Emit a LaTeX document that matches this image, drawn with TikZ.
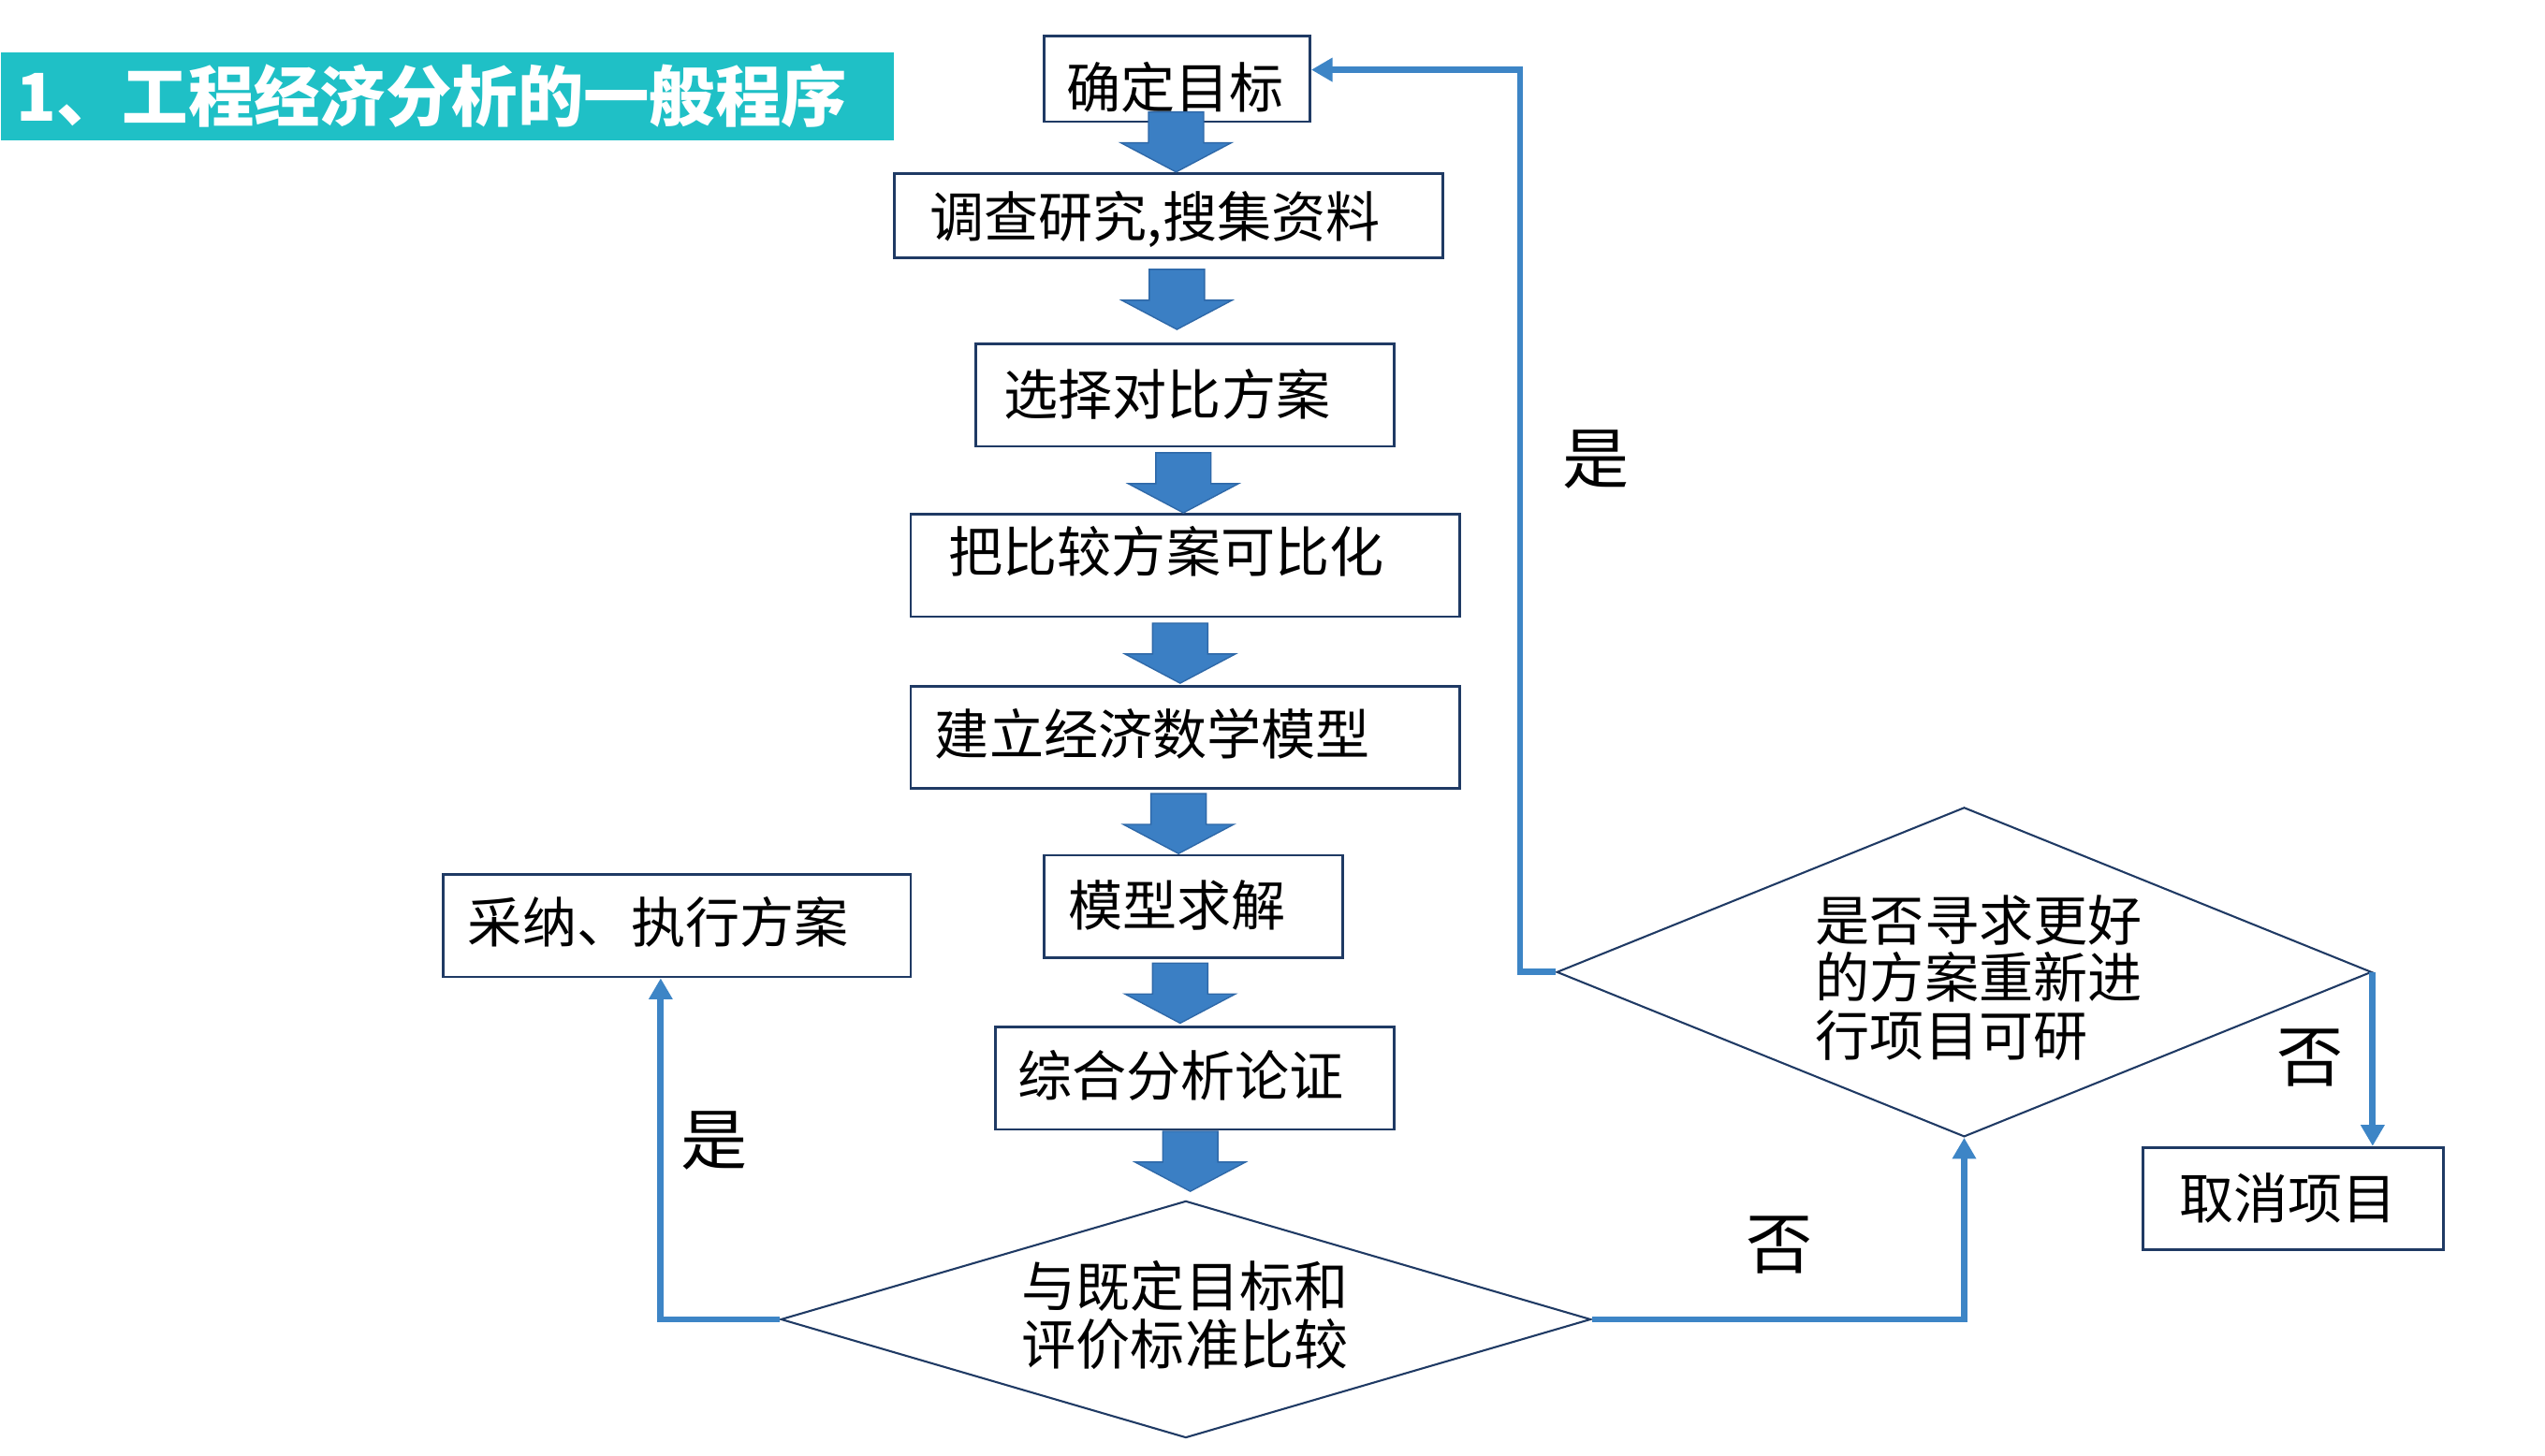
\documentclass[tikz,border=0pt]{standalone}
\usepackage{fontspec}
\newfontfamily\cjk{Noto Sans CJK SC}
\usetikzlibrary{shapes.geometric,arrows.meta,calc}
\definecolor{teal1}{HTML}{1FC0C6}
\definecolor{barrow}{HTML}{3B7FC4}
\definecolor{barrowline}{HTML}{2E68A8}
\definecolor{connblue}{HTML}{3D85C6}
\definecolor{boxline}{HTML}{1F3A64}
\begin{document}
\begin{tikzpicture}[x=0.5pt,y=-0.5pt,
  box/.style={draw=boxline, line width=0.8pt, inner sep=0pt},
  txt/.style={font=\cjk\fontsize{16.75}{17.75}\selectfont, inner sep=0pt, align=left},
  lbl/.style={font=\cjk\fontsize{20.5}{22}\selectfont, inner sep=0pt},
  dia/.style={diamond, draw=boxline, line width=0.6pt, inner sep=0pt},
  conn/.style={draw=connblue, line width=2pt, -{Triangle[length=6.5pt,width=7pt]}},
  pics/blockarrow/.style={code={\filldraw[fill=barrow,draw=barrowline,line width=0.4pt] (-17,-19) -- (17,-19) -- (17,0) -- (34,0) -- (0,18) -- (-34,0) -- (-17,0) -- cycle;}}
]
\useasboundingbox[fill=white] (0,0) rectangle (1567.8,897.2);
% title
\node[fill=teal1, minimum width=275pt, minimum height=27pt, inner sep=0pt, anchor=north west] (band) at (0,32) {};
\node[font=\cjk\bfseries\fontsize{20.3}{22}\selectfont, text=white, inner sep=0pt] (title) at (266,59) {1、工程经济分析的一般程序};
% boxes
\node[box, minimum width=82pt, minimum height=26.5pt] (b1) at (725,48.5) {};
\node[txt] (t1) at (724,54) {确定目标};
\node[box, minimum width=169pt, minimum height=26pt] (b2) at (720,133) {};
\node[txt] (t2) at (711.5,135) {调查研究,搜集资料};
\node[box, minimum width=129pt, minimum height=31.5pt] (b3) at (730,243.5) {};
\node[txt] (t3) at (719,243) {选择对比方案};
\node[box, minimum width=169pt, minimum height=31.5pt] (b4) at (730,348.5) {};
\node[txt] (t4) at (718.5,340) {把比较方案可比化};
\node[box, minimum width=169pt, minimum height=31.5pt] (b5) at (730,454.5) {};
\node[txt] (t5) at (710,452) {建立经济数学模型};
\node[box, minimum width=92pt, minimum height=31.5pt] (b6) at (735,558.5) {};
\node[txt] (t6) at (725,558) {模型求解};
\node[box, minimum width=123pt, minimum height=31.5pt] (b7) at (736,664.5) {};
\node[txt] (t7) at (727.5,663) {综合分析论证};
\node[dia, minimum width=249.5pt, minimum height=73pt] (d1) at (730.5,813) {};
\node[txt] (t8) at (730,810.5) {与既定目标和\\评价标准比较};
\node[box, minimum width=144pt, minimum height=31.5pt] (b9) at (417,570.5) {};
\node[txt] (t9) at (405.5,568) {采纳、执行方案};
\node[dia, minimum width=251pt, minimum height=101.5pt] (d2) at (1210,599) {};
\node[txt] (t10) at (1219,602.5) {是否寻求更好\\的方案重新进\\行项目可研};
\node[box, minimum width=92.5pt, minimum height=31.5pt] (b11) at (1412.5,738.5) {};
\node[txt] (t11) at (1409.5,738) {取消项目};
% block arrows
\pic at ($(b1.south)!0.5!(b2.north)+(2,-3)$) {blockarrow};
\pic at ($(b2.south)!0.5!(b3.north)+(0,-0.5)$) {blockarrow};
\pic at ($(b3.south)!0.5!(b4.north)+(-1,2)$) {blockarrow};
\pic at ($(b4.south)!0.5!(b5.north)+(-3,1.5)$) {blockarrow};
\pic at ($(b5.south)!0.5!(b6.north)+(-6.5,1.5)$) {blockarrow};
\pic at ($(b6.south)!0.5!(b7.north)+(-8.5,1)$) {blockarrow};
\pic at ($(b7.south)!0.5!(d1.north)+(0,-2)$) {blockarrow};
% connectors
\draw[conn] (d1.west) -| ([xshift=-5pt]b9.south);
\draw[conn] (d1.east) -| (d2.south);
\draw[conn] (d2.west) -- ++(-22,0) |- ([yshift=2.75pt]b1.east);
\draw[conn] (d2.east) -- (d2.east |- b11.north);
% labels
\node[lbl] (yes1) at (440,703) {是};
\node[lbl] (no1) at (1096,767) {否};
\node[lbl] (yes2) at (983,283) {是};
\node[lbl] (no2) at (1423,652) {否};
\end{tikzpicture}
\end{document}
